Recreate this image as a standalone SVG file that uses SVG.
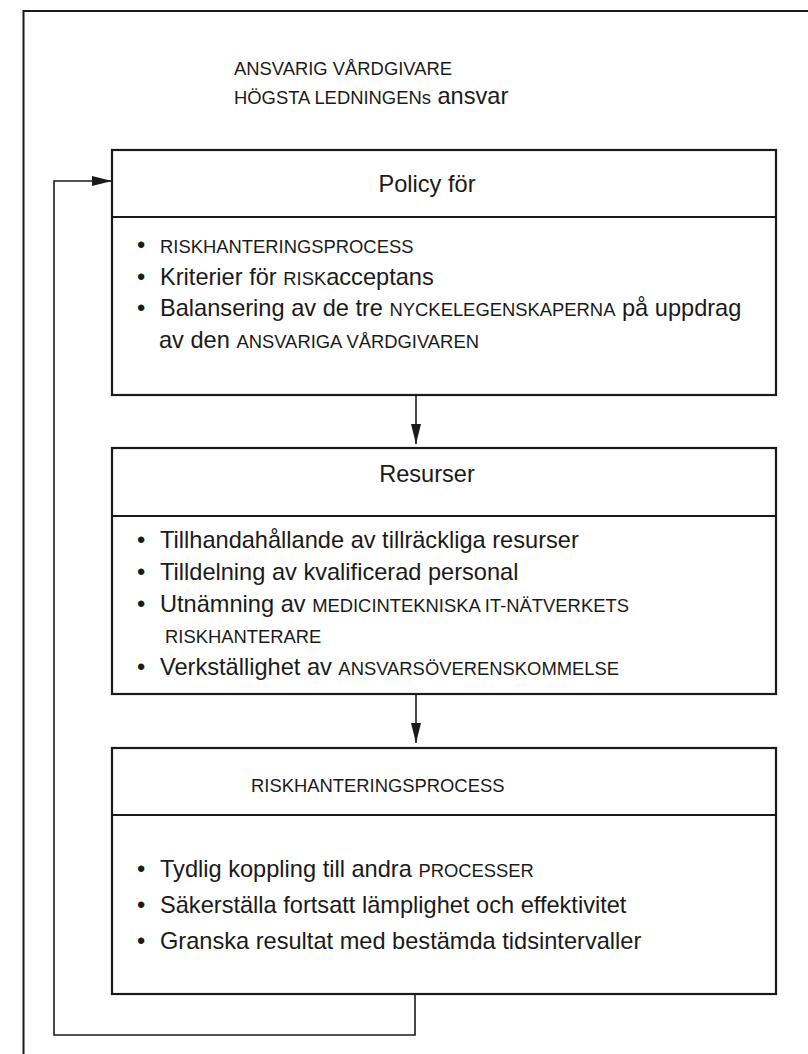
<svg xmlns="http://www.w3.org/2000/svg" width="808" height="1054" viewBox="0 0 808 1054">
<defs>
<style>
.frame{fill:none;stroke:#1a1a1a;stroke-width:2}
.box{fill:#fff;stroke:#1a1a1a;stroke-width:2.2}
.div{stroke:#1a1a1a;stroke-width:2.2}
.conn{fill:none;stroke:#1a1a1a;stroke-width:1.6}
text{font-family:"Liberation Sans",Arial,sans-serif;fill:#1a1a1a;font-size:23.6px}
.sc{font-size:18.4px}
.hdr{text-anchor:middle}
</style>
<marker id="ah" viewBox="0 0 20 10" refX="20" refY="5" markerWidth="20" markerHeight="10" markerUnits="userSpaceOnUse" orient="auto">
<path d="M0,0 L20,5 L0,10 Z" fill="#1a1a1a"/>
</marker>
</defs>
<rect width="808" height="1054" fill="#fff"/>
<path class="frame" d="M23.5,1054 V11 H808"/>
<g id="title">
<text x="234" y="75" class="sc">ANSVARIG VÅRDGIVARE</text>
<text x="234" y="104"><tspan class="sc">HÖGSTA LEDNINGENs</tspan> ansvar</text>
</g>
<g id="connectors">
<path class="conn" d="M416,395 V444" marker-end="url(#ah)"/>
<path class="conn" d="M416,694 V743" marker-end="url(#ah)"/>
<path class="conn" d="M415,994 V1035 H54 V181 H112" marker-end="url(#ah)"/>
</g>
<g id="policy">
<rect class="box" x="112" y="150" width="664" height="245"/>
<line class="div" x1="112" y1="217" x2="776" y2="217"/>
<text x="427" y="192" class="hdr">Policy för</text>
<text y="253"><tspan x="137">•</tspan><tspan x="160" class="sc">RISKHANTERINGSPROCESS</tspan></text>
<text y="285"><tspan x="137">•</tspan><tspan x="160">Kriterier för </tspan><tspan class="sc">RISK</tspan><tspan>acceptans</tspan></text>
<text y="316"><tspan x="137">•</tspan><tspan x="160">Balansering av de tre </tspan><tspan class="sc">NYCKELEGENSKAPERNA</tspan><tspan> på uppdrag</tspan></text>
<text y="348"><tspan x="159">av den </tspan><tspan class="sc">ANSVARIGA VÅRDGIVAREN</tspan></text>
</g>
<g id="resurser">
<rect class="box" x="112" y="448" width="664" height="246"/>
<line class="div" x1="112" y1="516" x2="776" y2="516"/>
<text x="427" y="482" class="hdr">Resurser</text>
<text y="548"><tspan x="137">•</tspan><tspan x="160">Tillhandahållande av tillräckliga resurser</tspan></text>
<text y="580"><tspan x="137">•</tspan><tspan x="160">Tilldelning av kvalificerad personal</tspan></text>
<text y="612"><tspan x="137">•</tspan><tspan x="160">Utnämning av </tspan><tspan class="sc">MEDICINTEKNISKA IT-NÄTVERKETS</tspan></text>
<text y="643" class="sc" x="165">RISKHANTERARE</text>
<text y="675"><tspan x="137">•</tspan><tspan x="160">Verkställighet av </tspan><tspan class="sc">ANSVARSÖVERENSKOMMELSE</tspan></text>
</g>
<g id="riskhanteringsprocess">
<rect class="box" x="112" y="748" width="664" height="246"/>
<line class="div" x1="112" y1="815" x2="776" y2="815"/>
<text x="251" y="792" class="sc">RISKHANTERINGSPROCESS</text>
<text y="877"><tspan x="137">•</tspan><tspan x="160">Tydlig koppling till andra </tspan><tspan class="sc">PROCESSER</tspan></text>
<text y="913"><tspan x="137">•</tspan><tspan x="160">Säkerställa fortsatt lämplighet och effektivitet</tspan></text>
<text y="949"><tspan x="137">•</tspan><tspan x="160">Granska resultat med bestämda tidsintervaller</tspan></text>
</g>
</svg>
